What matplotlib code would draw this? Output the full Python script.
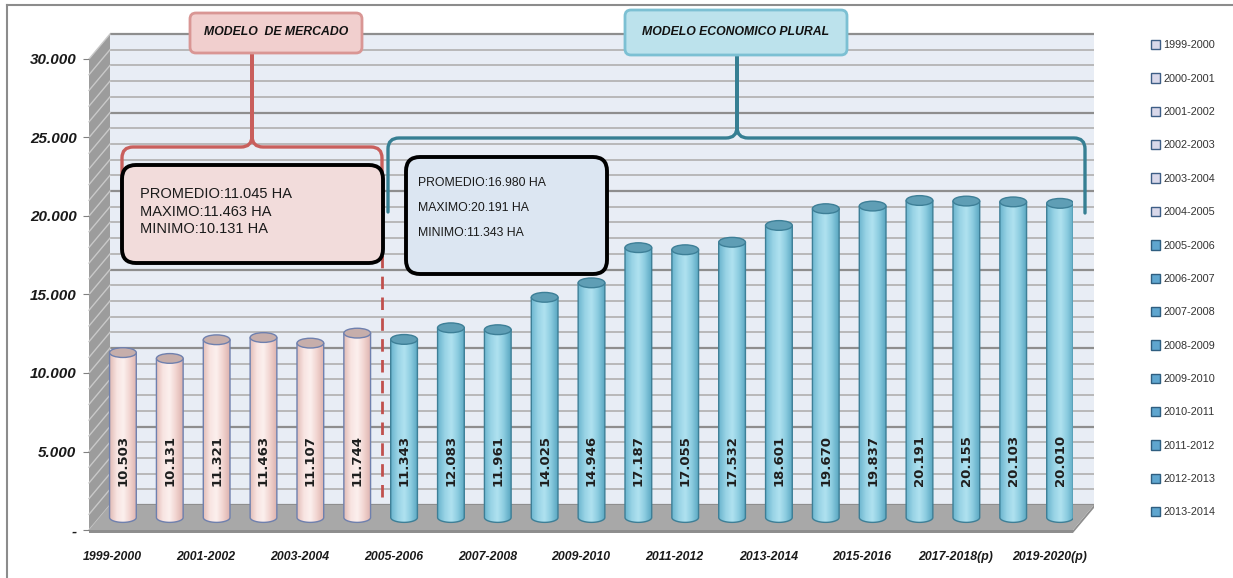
import numpy as np
import matplotlib
matplotlib.use('Agg')
import matplotlib.pyplot as plt
from matplotlib.patches import Ellipse, Polygon, FancyBboxPatch, Patch, PathPatch
from matplotlib.path import Path
from matplotlib.colors import LinearSegmentedColormap
import matplotlib.transforms as mtransforms
from matplotlib.lines import Line2D

# ---------------- data ----------------
categories = ['1999-2000', '2000-2001', '2001-2002', '2002-2003', '2003-2004',
              '2004-2005', '2005-2006', '2006-2007', '2007-2008', '2008-2009',
              '2009-2010', '2010-2011', '2011-2012', '2012-2013', '2013-2014',
              '2014-2015', '2015-2016', '2016-2017', '2017-2018(p)',
              '2018-2019(p)', '2019-2020(p)']
values = [10503, 10131, 11321, 11463, 11107, 11744, 11343, 12083, 11961,
          14025, 14946, 17187, 17055, 17532, 18601, 19670, 19837, 20191,
          20155, 20103, 20010]
n_market = 6  # periods under "Modelo de Mercado"
ytick_values = [0, 5000, 10000, 15000, 20000, 25000, 30000]
ytick_labels = ['-', '5.000', '10.000', '15.000', '20.000', '25.000', '30.000']
legend_labels = categories[:15]
market_title = 'MODELO  DE MERCADO'
plural_title = 'MODELO ECONOMICO PLURAL'
market_stats = ['PROMEDIO:11.045 HA', 'MAXIMO:11.463 HA', 'MINIMO:10.131 HA']
plural_stats = ['PROMEDIO:16.980 HA', 'MAXIMO:20.191 HA', 'MINIMO:11.343 HA']

# ---------------- style ----------------
FONT = ['Liberation Sans', 'DejaVu Sans']
W, H = 1233, 578
fig = plt.figure(figsize=(W / 100, H / 100), dpi=100)
fig.patch.set_facecolor('white')
ax = fig.add_axes([89 / W, 48 / H, 984 / W, 471 / H])
ax.set_facecolor('none')
for s in ax.spines.values():
    s.set_visible(False)

n = len(values)
X0, X1 = -0.5, n - 0.5
YMAX = 30000
DX, DY = 0.448, 1592          # depth offset of the pseudo-3D box
BAR_W, ELL_H = 0.57, 620

# back wall
ax.add_patch(Polygon([(X0 + DX, DY), (X1 + DX, DY), (X1 + DX, YMAX + DY), (X0 + DX, YMAX + DY)],
                     closed=True, facecolor='#E8EDF5', edgecolor='none', zorder=0.5, clip_on=False))
# side wall
ax.add_patch(Polygon([(X0, 0), (X0 + DX, DY), (X0 + DX, YMAX + DY), (X0, YMAX)],
                     closed=True, facecolor='#9C9C9C', edgecolor='none', zorder=0.7, clip_on=False))
# grid lines (back wall + side wall)
for v in range(0, YMAX + 1, 1000):
    major = (v % 5000 == 0)
    ax.plot([X0 + DX, X1 + DX], [v + DY, v + DY], color='#8E8E8E' if major else '#B4B4B4',
            lw=1.6 if major else 1.3, zorder=0.6, clip_on=False, solid_capstyle='butt')
    ax.plot([X0, X0 + DX], [v, v + DY], color='#C9C9C9', lw=1.0, zorder=0.75, clip_on=False)
# floor
ax.add_patch(Polygon([(X0, 0), (X1, 0), (X1 + DX, DY), (X0 + DX, DY)],
                     closed=True, facecolor='#A8A8A8', edgecolor='none', zorder=0.8, clip_on=False))
ax.add_patch(Polygon([(X0, -190), (X1, -190), (X1 + DX, DY - 190), (X1 + DX, DY), (X1, 0), (X0, 0)],
                     closed=True, facecolor='#8E8E8E', edgecolor='none', zorder=0.79, clip_on=False))

# cylinders
pink_cmap = LinearSegmentedColormap.from_list('p', ['#E2BDB8', '#F8E4E1', '#FCF0EE', '#F1D3CF', '#DDB3AE'])
blue_cmap = LinearSegmentedColormap.from_list('b', ['#6CB6CF', '#98D3E5', '#B0E2F0', '#8ACBDF', '#5BA7C1'])
grad = np.linspace(0, 1, 64)[np.newaxis, :]


def cylinder(xc, top, base, cmap, edge, topc):
    t = np.linspace(np.pi, 2 * np.pi, 40)
    xs = xc + (BAR_W / 2) * np.cos(t)
    ys = base + (ELL_H / 2) * np.sin(t)
    verts = [(xc - BAR_W / 2, top)] + list(zip(xs, ys)) + [(xc + BAR_W / 2, top), (xc - BAR_W / 2, top)]
    codes = [Path.MOVETO] + [Path.LINETO] * (len(verts) - 2) + [Path.CLOSEPOLY]
    body = PathPatch(Path(verts, codes), facecolor='none', edgecolor=edge, lw=1.0, zorder=2.1)
    ax.add_patch(body)
    im = ax.imshow(grad, cmap=cmap, extent=(xc - BAR_W / 2, xc + BAR_W / 2, base - ELL_H / 2, top),
                   aspect='auto', interpolation='bicubic', zorder=2.0)
    im.set_clip_path(body)
    ax.add_patch(Ellipse((xc, top), BAR_W, ELL_H, facecolor=topc, edgecolor=edge, lw=1.0, zorder=2.2))


for i, v in enumerate(values):
    xc = i + DX / 2
    if i < n_market:
        cylinder(xc, v + DY / 2, DY / 2, pink_cmap, '#6F80AE', '#C6AEAB')
    else:
        cylinder(xc, v + DY / 2, DY / 2, blue_cmap, '#3D7F97', '#5F9EB5')
    ax.text(xc, 4400, f'{v:,}'.replace(',', '.'), rotation=90, ha='center', va='center',
            fontsize=9.5, fontweight='bold', color='#1E1E1E', family='DejaVu Sans', zorder=3)

# separator
xsep = n_market - 0.5 + DX * 0.55
ax.plot([xsep, xsep], [2100, 22600], color='#C0504D', lw=2, ls=(0, (4.5, 3)), zorder=4, clip_on=False)

ax.set_xlim(X0, X1)
ax.set_ylim(0, YMAX)
ax.set_yticks(ytick_values, ytick_labels)
ax.set_xticks(range(0, n, 2), categories[::2])
ax.tick_params(axis='y', length=4, color='#808080', pad=5, labelsize=11)
ax.tick_params(axis='x', length=0, pad=15, labelsize=8.8)
for lab in ax.get_yticklabels() + ax.get_xticklabels():
    lab.set_family(FONT)
    lab.set_fontweight('bold')
    lab.set_fontstyle('italic')
    lab.set_color('#1A1A1A')

# legend
handles = [Patch(facecolor='#D9D8EA' if i < n_market else '#5FA6CF',
                 edgecolor='#3E5E86' if i < n_market else '#2F5E80', lw=1.0)
           for i in range(len(legend_labels))]
fig.legend(handles, legend_labels, loc='upper left', bbox_to_anchor=(1151 / W, 1 - 40 / H),
           frameon=False, prop={'family': FONT, 'size': 7.8}, labelspacing=2.12,
           handlelength=0.85, handleheight=0.95, handletextpad=0.3, borderpad=0, borderaxespad=0,
           labelcolor='#333333')

# ---------------- annotations (pixel layout) ----------------
ID = mtransforms.IdentityTransform()


def P(x, y):
    return (x, H - y)


def box(x0, y0, x1, y1, fc, ec, lw, r, z):
    p = FancyBboxPatch(P(x0, y1), x1 - x0, y1 - y0, boxstyle=f'round,pad=0,rounding_size={r}',
                       facecolor=fc, edgecolor=ec, lw=lw, transform=ID, zorder=z)
    fig.add_artist(p)
    return p


def brace(xl, xr, xm, yh, ytip, ybot_l, ybot_r, color):
    c = 11
    pts = [P(xl, ybot_l), P(xl, yh + c), P(xl, yh), P(xl + c, yh), P(xm - c, yh), P(xm, yh),
           P(xm, yh - c), P(xm, ytip), P(xm, yh - c), P(xm, yh), P(xm + c, yh), P(xr - c, yh),
           P(xr, yh), P(xr, yh + c), P(xr, ybot_r)]
    codes = [Path.MOVETO, Path.LINETO, Path.CURVE3, Path.CURVE3, Path.LINETO, Path.CURVE3, Path.CURVE3,
             Path.LINETO, Path.LINETO, Path.CURVE3, Path.CURVE3, Path.LINETO, Path.CURVE3, Path.CURVE3,
             Path.LINETO]
    fig.add_artist(PathPatch(Path(pts, codes), facecolor='none', edgecolor=color, lw=2.4, transform=ID,
                             zorder=4.5, capstyle='round', joinstyle='round'))


# braces
brace(122, 382, 252, 147, 53, 207, 205, '#C95F5C')
brace(388, 1085, 737, 138, 55, 212, 213, '#367F93')

# stats boxes
box(122, 165, 383, 263, '#F2DCDB', '#000000', 2.8, 14, 5)
for k, s in enumerate(market_stats):
    fig.text(140, H - (194 + 17.5 * k), s, transform=ID, va='center', ha='left', fontsize=10.5,
             family=FONT, color='#1A1A1A', zorder=6)
box(406, 157, 607, 274, '#DCE6F2', '#000000', 2.8, 14, 5)
for k, s in enumerate(plural_stats):
    fig.text(418, H - (183 + 25 * k), s, transform=ID, va='center', ha='left', fontsize=8.8,
             family=FONT, color='#1A1A1A', zorder=6)

# title boxes
box(190, 13, 362, 53, '#F1CFCE', '#D99694', 2.0, 6, 6)
fig.text(276, H - 32, market_title, transform=ID, va='center', ha='center', fontsize=8.8,
         family=FONT, fontweight='bold', fontstyle='italic', color='#111111', zorder=7)
box(625, 10, 847, 55, '#BCE2EC', '#7CC0D3', 2.0, 6, 6)
fig.text(736, H - 32, plural_title, transform=ID, va='center', ha='center', fontsize=8.8,
         family=FONT, fontweight='bold', fontstyle='italic', color='#111111', zorder=7)

# outer frame of chart area
fig.add_artist(Line2D([7, W], [H - 5, H - 5], color='#8C8C8C', lw=1.5, transform=ID))
fig.add_artist(Line2D([7, 7], [H - 5, 0], color='#8C8C8C', lw=1.5, transform=ID))

fig.savefig('out.png', dpi=100)
